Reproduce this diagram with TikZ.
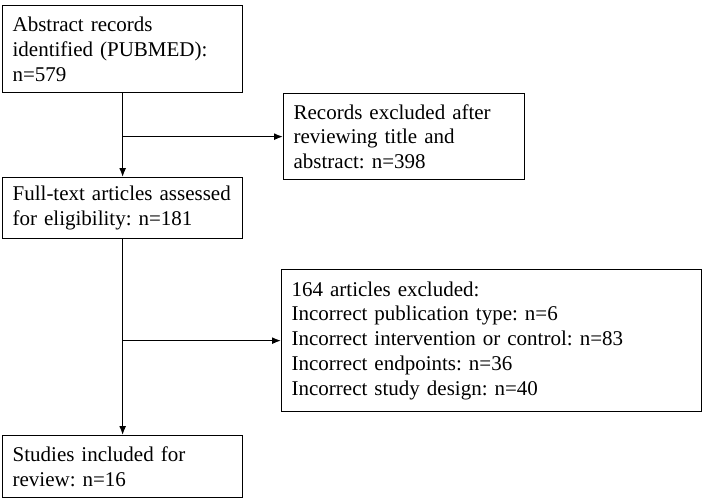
\documentclass[tikz,border=0pt]{standalone}
\usepackage{fontspec}
\setmainfont{Liberation Serif}
\usepackage{tikz}
\usetikzlibrary{positioning, arrows.meta}
\frenchspacing

\tikzset{
    stagebox/.style={draw, line width=1.3pt, anchor=north west, align=left, inner xsep=10pt, inner ysep=0pt,
        font=\fontsize{21pt}{24.8pt}\selectfont},
    flow/.style={-{Latex[length=9pt, width=7pt]}, line width=1.3pt}
}

\begin{document}
\begin{tikzpicture}[x=1pt, y=1pt]
    \useasboundingbox (0,0) rectangle (708,-498);
    \node (Records) [stagebox, minimum width=240pt, minimum height=87pt, text width=220pt] at (2,-5) {Abstract records\\identified (PUBMED):\\n=579};
    \node (Excluded) [stagebox, minimum width=241pt, minimum height=86pt, text width=221pt] at (283,-93) {Records excluded after\\reviewing title and\\abstract: n=398};
    \node (FullText) [stagebox, minimum width=240pt, minimum height=61pt, text width=220pt] at (2,-177) {Full-text articles assessed\\for eligibility: n=181};
    \node (Articles) [stagebox, minimum width=420pt, minimum height=142pt, text width=400pt] at (281,-269) {164 articles excluded:\\Incorrect publication type: n=6\\Incorrect intervention or control: n=83\\Incorrect endpoints: n=36\\Incorrect study design: n=40};
    \node (Included) [stagebox, minimum width=240pt, minimum height=62pt, text width=220pt] at (2,-435) {Studies included for\\review: n=16};

    \coordinate (B1) at (Records.south |- Excluded.west);
    \coordinate (B2) at (FullText.south |- Articles.west);
    \draw [flow] (Records.south) -- (FullText.north);
    \draw [flow] (B1) -- (Excluded.west);
    \draw [flow] (FullText.south) -- (Included.north);
    \draw [flow] (B2) -- (Articles.west);
\end{tikzpicture}
\end{document}
